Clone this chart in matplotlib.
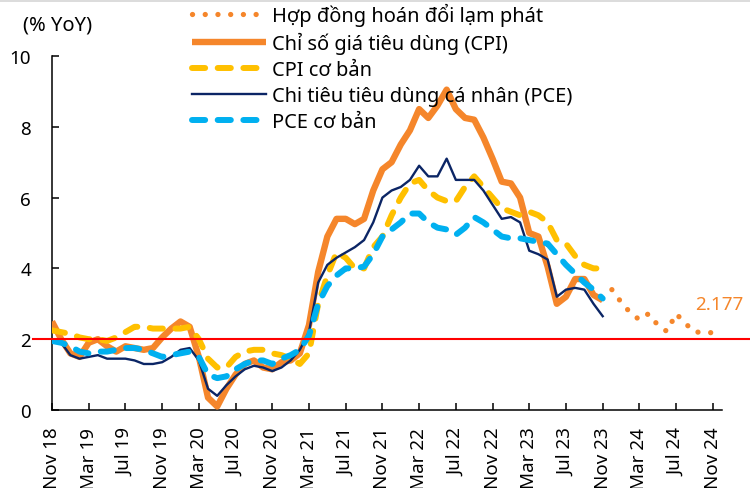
import numpy as np
import pandas as pd
import matplotlib
matplotlib.use("Agg")
import matplotlib.pyplot as plt
from matplotlib.patches import Rectangle

plt.rcParams["font.family"] = ["Noto Sans", "DejaVu Sans"]

# ---------- Data (% YoY, monthly from Nov 18) ----------
months = pd.date_range("2018-11-01", "2024-12-01", freq="MS")
tick_labels = [m.strftime("%b %y") for m in months[::4]]

cpi = [2.5, 2.0, 1.6, 1.5, 1.9, 2.0, 1.8, 1.65, 1.8, 1.75,
       1.7, 1.75, 2.05, 2.3, 2.5, 2.35, 1.5, 0.35, 0.1, 0.6,
       1.0, 1.3, 1.4, 1.2, 1.15, 1.35, 1.4, 1.6, 2.4, 3.9,
       4.9, 5.4, 5.4, 5.25, 5.4, 6.2, 6.8, 7.0, 7.5, 7.9,
       8.5, 8.25, 8.6, 9.05, 8.5, 8.25, 8.2, 7.7, 7.1, 6.45,
       6.4, 6.0, 5.0, 4.9, 4.05, 3.0, 3.2, 3.7, 3.7, 3.25,
       3.1]
core_cpi = [2.25, 2.2, 2.15, 2.05, 2.0, 2.0, 1.95, 2.05, 2.2, 2.35,
            2.35, 2.3, 2.3, 2.3, 2.3, 2.35, 2.0, 1.45, 1.2, 1.2,
            1.5, 1.65, 1.7, 1.7, 1.6, 1.55, 1.45, 1.3, 1.6, 3.0,
            3.8, 4.45, 4.3, 4.0, 4.0, 4.6, 4.9, 5.5, 6.0, 6.4,
            6.5, 6.2, 6.0, 5.9, 5.9, 6.3, 6.6, 6.3, 6.0, 5.7,
            5.6, 5.5, 5.6, 5.5, 5.3, 4.8, 4.7, 4.35, 4.1, 4.0,
            4.0]
pce = [1.95, 1.9, 1.55, 1.45, 1.5, 1.55, 1.45, 1.45, 1.45, 1.4,
       1.3, 1.3, 1.35, 1.5, 1.7, 1.75, 1.4, 0.6, 0.4, 0.7,
       0.95, 1.15, 1.25, 1.2, 1.1, 1.2, 1.4, 1.7, 2.2, 3.6,
       4.1, 4.3, 4.45, 4.6, 4.8, 5.3, 6.0, 6.2, 6.3, 6.5,
       6.9, 6.6, 6.6, 7.1, 6.5, 6.5, 6.5, 6.2, 5.8, 5.4,
       5.45, 5.3, 4.5, 4.4, 4.25, 3.2, 3.4, 3.45, 3.4, 3.0,
       2.65]
core_pce = [1.95, 1.9, 1.8, 1.65, 1.6, 1.65, 1.65, 1.7, 1.75, 1.75,
            1.7, 1.6, 1.5, 1.55, 1.6, 1.65, 1.5, 1.0, 0.9, 0.95,
            1.15, 1.3, 1.4, 1.4, 1.3, 1.45, 1.55, 1.7, 2.1, 3.0,
            3.5, 3.8, 4.0, 4.0, 4.05, 4.4, 4.9, 5.1, 5.3, 5.55,
            5.55, 5.3, 5.15, 5.1, 4.95, 5.15, 5.45, 5.3, 5.1, 4.9,
            4.85, 4.85, 4.8, 4.75, 4.7, 4.4, 4.1, 3.85, 3.6, 3.4,
            3.15]
# inflation swap path, Dec 23 -> Dec 24
swap = [3.4, 3.05, 2.75, 2.55, 2.72, 2.4, 2.22, 2.72, 2.45, 2.2,
        2.2, 2.18, 2.177]
target = 2.0

names = ["Hợp đồng hoán đổi lạm phát", "Chỉ số giá tiêu dùng (CPI)",
         "CPI cơ bản", "Chi tiêu tiêu dùng cá nhân (PCE)", "PCE cơ bản"]

ORANGE = "#F5862B"
YELLOW = "#FFC000"
NAVY = "#0B2565"
CYAN = "#00B0F0"

# ---------- Figure ----------
fig = plt.figure(figsize=(7.5, 4.89), dpi=100)
ax = fig.add_axes([52 / 750, 1 - 411 / 489, 670 / 750, 354 / 489])

x_hist = np.arange(len(cpi))
x_swap = np.arange(len(cpi), len(cpi) + len(swap))

ax.plot(x_swap, swap, color=ORANGE, lw=3.8, ls=(0, (0.01, 2.4)),
        dash_capstyle="round", clip_on=False, label=names[0], zorder=2)
ax.plot(x_hist, cpi, color=ORANGE, lw=4.6, solid_joinstyle="round",
        solid_capstyle="butt", label=names[1], zorder=3)
ax.plot(x_hist, core_cpi, color=YELLOW, lw=4.3, ls=(0, (2.2, 2.1)),
        dash_capstyle="round", dash_joinstyle="round", label=names[2], zorder=4)
ax.plot(x_hist, pce, color=NAVY, lw=1.7, solid_joinstyle="round",
        label=names[3], zorder=5)
ax.plot(x_hist, core_pce, color=CYAN, lw=4.3, ls=(0, (2.2, 2.1)),
        dash_capstyle="round", dash_joinstyle="round", label=names[4], zorder=6)

# 2% target line, runs past the plot area
ax.axhline(target, xmin=-19 / 670, xmax=698 / 670, color="#FF0000", lw=1.5,
           clip_on=False, zorder=7)

ax.annotate(f"{swap[-1]:.3f}", (x_swap[-1], swap[-1]), xytext=(-19, 21),
            textcoords="offset points", ha="left", va="center",
            color=ORANGE, fontsize=13.5, annotation_clip=False)

ax.set_xlim(0, len(months) - 1)
ax.set_ylim(0, 10)
ax.set_xticks(np.arange(0, len(months), 4))
ax.set_xticklabels(tick_labels)
ax.set_yticks(np.arange(0, 11, 2))

for side in ["top", "right"]:
    ax.spines[side].set_visible(False)
for side in ["left", "bottom"]:
    ax.spines[side].set_linewidth(1.1)

ax.tick_params(axis="y", direction="in", length=5, width=1.1, pad=15,
               labelsize=13.5)
ax.tick_params(axis="x", direction="in", length=5, width=1.1, pad=12,
               labelsize=13.5, labelrotation=90)

ax.legend(loc="upper left", bbox_to_anchor=(192 / 750, 1 - 4 / 489),
          bbox_transform=fig.transFigure, frameon=False, borderpad=0,
          borderaxespad=0, handlelength=3.7, handletextpad=0.3,
          labelspacing=0.3, fontsize=14.4)

fig.text(23 / 750, 1 - 25 / 489, "(% YoY)", ha="left", va="center",
         fontsize=14.5)

# thin grey strip along the top edge
fig.add_artist(Rectangle((0, 1 - 3 / 489), 1, 3 / 489,
                         transform=fig.transFigure, color="#dcdcdc", lw=0))

fig.savefig("out.png", dpi=100)
